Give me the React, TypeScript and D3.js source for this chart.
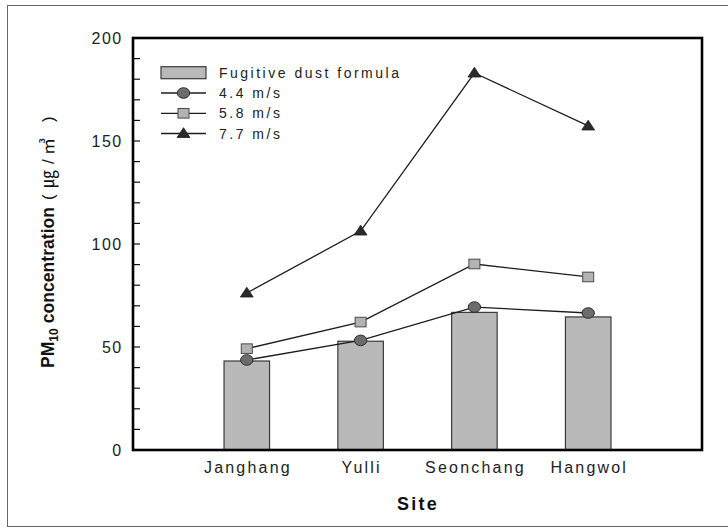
import React from "react";
import * as d3 from "d3";

// Sites along the x axis
const sites = ["Janghang", "Yulli", "Seonchang", "Hangwol"];
// PM10 from the fugitive dust formula (bars)
const formulaValues = [43.2, 52.8, 66.8, 64.6];
// PM10 at three wind speeds (lines)
const wind44 = [43.7, 53.2, 69.4, 66.5];
const wind58 = [49.2, 62.1, 90.3, 84.0];
const wind77 = [76.2, 106.3, 183.0, 157.3];
const yMajorTicks = [0, 50, 100, 150, 200];

const W = 728;
const H = 528;
const FONT = "'Liberation Sans', Arial, Helvetica, sans-serif";
const CJK = "'Noto Sans CJK KR', 'Noto Sans CJK SC', sans-serif";

const x = d3.scaleLinear().domain([0, sites.length + 1]).range([133, 702]);
const y = d3.scaleLinear().domain([0, 200]).range([450, 38]);
const barW = (x(1) - x(0)) * 0.4;

type Marker = "circle" | "square" | "triangle";

function MarkerShape({ kind, cx, cy }: { kind: Marker; cx: number; cy: number }) {
  if (kind === "circle") {
    return <ellipse cx={cx} cy={cy} rx={6.2} ry={5.3} fill="#6c6c6c" stroke="#2e2e2e" strokeWidth={1} />;
  }
  if (kind === "square") {
    return <rect x={cx - 5.5} y={cy - 4.8} width={11} height={9.6} fill="#b3b3b3" stroke="#4a4a4a" strokeWidth={1} />;
  }
  const tri = d3.path();
  tri.moveTo(cx, cy - 5.8);
  tri.lineTo(cx + 6.4, cy + 4);
  tri.lineTo(cx - 6.4, cy + 4);
  tri.closePath();
  return <path d={tri.toString()} fill="#2b2b2b" stroke="#1a1a1a" strokeWidth={0.8} />;
}

const series: { label: string; values: number[]; marker: Marker }[] = [
  { label: "4.4 m/s", values: wind44, marker: "circle" },
  { label: "5.8 m/s", values: wind58, marker: "square" },
  { label: "7.7 m/s", values: wind77, marker: "triangle" },
];

export default function App() {
  const line = d3
    .line<number>()
    .x((_, i) => x(i + 1))
    .y((v) => y(v));

  const minorTicks = d3.range(0, 201, 10);

  const legendX0 = 161;
  const legendX1 = 206;
  const legendRows = [72.7, 93, 113.3, 133.5];

  return (
    <svg
      width={W}
      height={H}
      style={{ position: "absolute", left: 0, top: 0, background: "#fff" }}
      fontFamily={FONT}
    >
      <rect x={0} y={0} width={W} height={H} fill="#fff" />
      <rect x={7.5} y={5.5} width={725} height={521} fill="none" stroke="#666" strokeWidth={1} />

      {/* bars */}
      {formulaValues.map((v, i) => (
        <rect
          key={sites[i]}
          x={x(i + 1) - barW / 2}
          y={y(v)}
          width={barW}
          height={y(0) - y(v)}
          fill="#b9b9b9"
          stroke="#3a3a3a"
          strokeWidth={1.2}
        />
      ))}

      {/* lines */}
      {series.map((s) => (
        <path key={s.label} d={line(s.values) ?? ""} fill="none" stroke="#1c1c1c" strokeWidth={1.3} />
      ))}
      {series.map((s) =>
        s.values.map((v, i) => <MarkerShape key={s.label + i} kind={s.marker} cx={x(i + 1)} cy={y(v)} />)
      )}

      {/* y ticks (inward) */}
      {minorTicks.map((t) => (
        <line key={t} x1={x(0)} x2={x(0) + 7} y1={y(t)} y2={y(t)} stroke="#111" strokeWidth={1.2} />
      ))}
      {yMajorTicks.map((t) => (
        <text
          key={t}
          x={122.5}
          y={y(t)}
          dy="0.36em"
          textAnchor="end"
          fontSize={16}
          letterSpacing={1.4}
          fill="#222"
        >
          {t}
        </text>
      ))}

      {/* plot frame */}
      <rect
        x={x(0)}
        y={y(200)}
        width={x(sites.length + 1) - x(0)}
        height={y(0) - y(200)}
        fill="none"
        stroke="#000"
        strokeWidth={2.6}
      />

      {/* x labels */}
      {sites.map((s, i) => (
        <text key={s} x={x(i + 1) + 1.1} y={473} textAnchor="middle" fontSize={16} letterSpacing={2.2} fill="#222">
          {s}
        </text>
      ))}
      <text x={418} y={510} textAnchor="middle" fontSize={18} fontWeight="bold" letterSpacing={2.3} fill="#111">
        Site
      </text>

      {/* y title */}
      <g transform="translate(53.5,368) rotate(-90)">
        <text x={0} y={0} fontSize={17.5} fontWeight="bold" letterSpacing={0.05} fill="#111">
          PM
          <tspan fontSize={12} dy={4}>10</tspan>
          <tspan dy={-4}> concentration</tspan>
        </text>
        <text x={168} y={0} fontSize={17} fill="#111">(</text>
        <text x={180} y={0} fontSize={18} fontFamily={CJK} fill="#111">㎍</text>
        <text x={204} y={0} fontSize={17} fill="#111">/</text>
        <text x={213} y={0} fontSize={17} fontFamily={CJK} fill="#111">㎥</text>
        <text x={246} y={0} fontSize={17} fill="#111">)</text>
      </g>

      {/* legend */}
      <rect
        x={legendX0}
        y={legendRows[0] - 6}
        width={legendX1 - legendX0}
        height={12}
        fill="#b9b9b9"
        stroke="#3a3a3a"
        strokeWidth={1.2}
      />
      <text x={219} y={legendRows[0]} dy="0.36em" fontSize={14} letterSpacing={2.5} fill="#222">
        Fugitive dust formula
      </text>
      {series.map((s, k) => {
        const ry = legendRows[k + 1];
        return (
          <g key={s.label}>
            <line x1={legendX0} x2={legendX1} y1={ry} y2={ry} stroke="#1c1c1c" strokeWidth={1.3} />
            <MarkerShape kind={s.marker} cx={(legendX0 + legendX1) / 2} cy={ry} />
            <text x={219} y={ry} dy="0.36em" fontSize={14} letterSpacing={2.5} fill="#222">
              {s.label}
            </text>
          </g>
        );
      })}
    </svg>
  );
}
